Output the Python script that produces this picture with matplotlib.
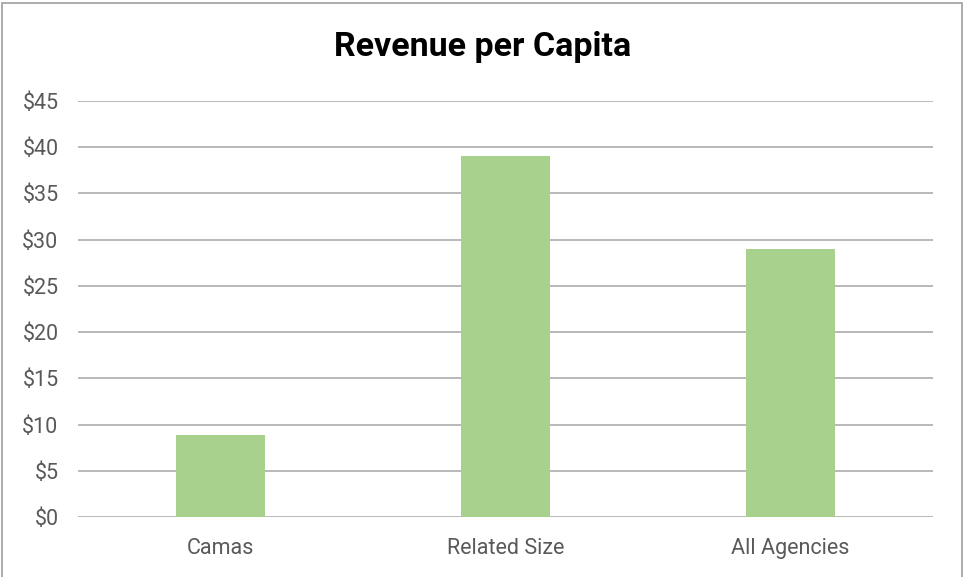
import matplotlib
matplotlib.use("Agg")
import matplotlib.pyplot as plt
from matplotlib.patches import Rectangle
from matplotlib.ticker import FuncFormatter

categories = ["Camas", "Related Size", "All Agencies"]
values = [8.9, 39.0, 29.0]
yticks = [0, 5, 10, 15, 20, 25, 30, 35, 40, 45]

W, H = 963, 577
fig = plt.figure(figsize=(W / 100, H / 100), dpi=100)
fig.patch.set_facecolor("white")

# outer frame
fig.patches.append(Rectangle((2 / W, -0.01), (W - 3.5) / W, 1.01 - 2.5 / H,
                             transform=fig.transFigure, fill=False,
                             edgecolor="#A6A6A6", linewidth=1.3))

ax = fig.add_axes([78 / W, (H - 517) / H, (933 - 78) / W, (517 - 101) / H])
x = list(range(len(categories)))
ax.bar(x, values, width=0.312, color="#A9D18E", zorder=3)
ax.set_xlim(-0.5, len(categories) - 0.5)
ax.set_ylim(0, 45)
ax.set_yticks(yticks)
ax.yaxis.set_major_formatter(FuncFormatter(lambda v, p: f"${v:.0f}"))
ax.set_xticks(x)
ax.set_xticklabels(categories)
ax.grid(axis="y", color="#A6A6A6", linewidth=1.1, zorder=0)
for s in ax.spines.values():
    s.set_visible(False)
ax.tick_params(axis="both", length=0, labelsize=15.5, labelcolor="#595959")
ax.tick_params(axis="x", pad=15)
ax.tick_params(axis="y", pad=14)
for lab in ax.get_xticklabels() + ax.get_yticklabels():
    lab.set_family("Roboto")

fig.text(483 / W, 1 - 47 / H, "Revenue per Capita", ha="center", va="center",
         fontsize=24.5, fontweight="bold", family="Roboto", color="black")

fig.savefig("out.png", dpi=100)
